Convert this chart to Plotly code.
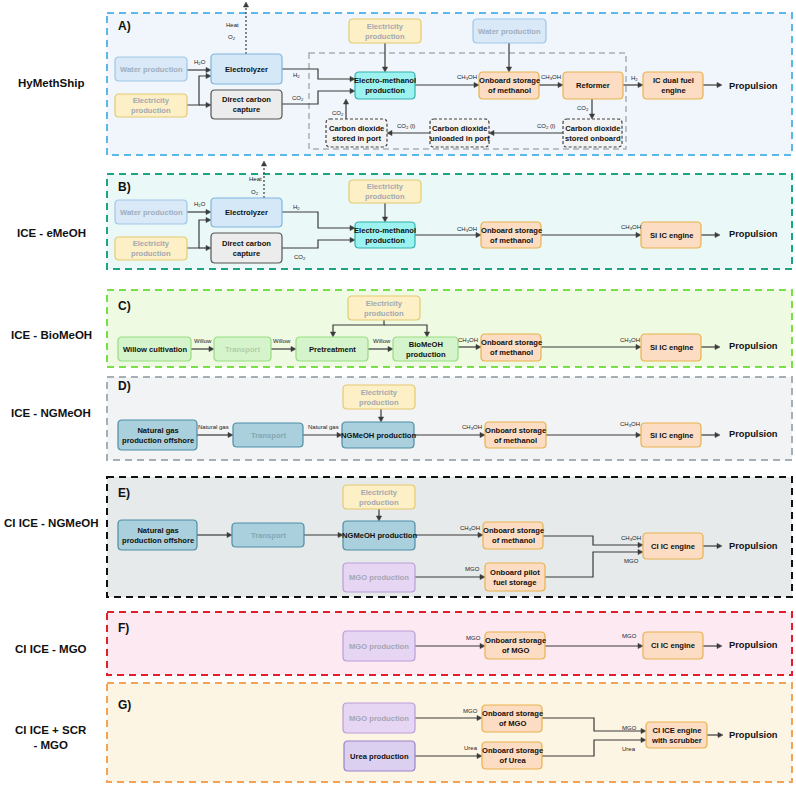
import plotly.graph_objects as go

W, H = 796, 785
FONT = "Liberation Sans, Arial, sans-serif"

# ---------------- data ----------------
scenario_names = ["HyMethShip", "ICE - eMeOH", "ICE - BioMeOH", "ICE - NGMeOH",
                  "CI ICE - NGMeOH", "CI ICE - MGO", "CI ICE + SCR<br>- MGO"]
panel_letters = ["A)", "B)", "C)", "D)", "E)", "F)", "G)"]

# ---------------- layout (positions in pixels) ----------------
panel_x = (107, 792)
panel_y = [(13, 155), (174, 269), (290, 367), (377, 460), (477, 597), (612, 675), (683, 782)]
panel_fill = ["#f0f6fb", "#eaf9f7", "#effae3", "#f2f3f4", "#e6eaeb", "#fde9f2", "#fdf5e3"]
panel_line = ["#5bb8ea", "#1ba584", "#78df45", "#a5afb6", "#111111", "#e11f2a", "#f4a253"]
name_y = [83, 233, 335, 413, 523, 649, 737]
letter_y = [26, 187, 306, 386, 493, 628, 705]

styles = {
    "water":  dict(fill="#dae9f7", line="#9fc6e7", text="#9eaebe", dash=None),
    "elec":   dict(fill="#fdf0c6", line="#e5ca70", text="#a2a9b2", dash=None),
    "elz":    dict(fill="#d4e8f8", line="#80b4de", text="#111111", dash=None),
    "dcc":    dict(fill="#ececec", line="#555555", text="#111111", dash=None),
    "em":     dict(fill="#9cf2ef", line="#30b2b2", text="#111111", dash=None),
    "co2":    dict(fill="#f3f3f3", line="#444444", text="#111111", dash="3px,2px"),
    "orange": dict(fill="#fddcc4", line="#e9b24c", text="#111111", dash=None),
    "green":  dict(fill="#d6f4cb", line="#96dd82", text="#111111", dash=None),
    "greenf": dict(fill="#d6f4cb", line="#96dd82", text="#b2cfa8", dash=None),
    "teal":   dict(fill="#a9d0dc", line="#4d8ea5", text="#111111", dash=None),
    "tealf":  dict(fill="#a9d0dc", line="#4d8ea5", text="#86a7b3", dash=None),
    "mgo":    dict(fill="#e6d6f3", line="#bb9dd8", text="#a3a6b4", dash=None),
    "urea":   dict(fill="#dcd0f1", line="#9b82c9", text="#111111", dash=None),
}

EL = "Electricity<br>production"
WP = "Water production"
OSM = "Onboard storage<br>of methanol"
nodes = [
    # panel A
    (WP, 115, 57, 187, 81, "water"),
    (EL, 115, 94, 187, 117, "elec"),
    ("Electrolyzer", 211, 54, 282, 84, "elz"),
    ("Direct carbon<br>capture", 211, 90, 282, 119, "dcc"),
    (EL, 349, 19, 421, 43, "elec"),
    ("Electro-methanol<br>production", 355, 72, 415, 99, "em"),
    ("Carbon dioxide<br>stored in port", 326, 119, 387, 147, "co2"),
    ("Carbon dioxide<br>unloaded in port", 430, 119, 489, 147, "co2"),
    ("Carbon dioxide<br>stored onboard", 563, 119, 622, 147, "co2"),
    (WP, 473, 19, 546, 43, "water"),
    (OSM, 479, 72, 539, 99, "orange"),
    ("Reformer", 563, 72, 623, 99, "orange"),
    ("IC dual fuel<br>engine", 643, 72, 703, 99, "orange"),
    # panel B
    (WP, 115, 200, 187, 224, "water"),
    (EL, 115, 237, 187, 260, "elec"),
    ("Electrolyzer", 211, 198, 282, 227, "elz"),
    ("Direct carbon<br>capture", 211, 233, 282, 263, "dcc"),
    (EL, 349, 180, 421, 203, "elec"),
    ("Electro-methanol<br>production", 355, 222, 415, 248, "em"),
    (OSM, 481, 222, 541, 248, "orange"),
    ("SI IC engine", 641, 222, 701, 248, "orange"),
    # panel C
    ("Willow cultivation", 118, 337, 191, 361, "green"),
    ("Transport", 214, 337, 271, 361, "greenf"),
    ("Pretreatment", 296, 337, 368, 361, "green"),
    ("BioMeOH<br>production", 393, 337, 458, 361, "green"),
    (EL, 348, 296, 420, 320, "elec"),
    (OSM, 481, 334, 541, 361, "orange"),
    ("SI IC engine", 641, 334, 701, 361, "orange"),
    # panel D
    ("Natural gas<br>production offshore", 118, 420, 197, 450, "teal"),
    ("Transport", 233, 423, 303, 447, "tealf"),
    ("NGMeOH production", 342, 422, 414, 448, "teal"),
    (EL, 343, 385, 415, 409, "elec"),
    (OSM, 485, 422, 546, 448, "orange"),
    ("SI IC engine", 641, 423, 701, 447, "orange"),
    # panel E
    ("Natural gas<br>production offshore", 118, 520, 197, 550, "teal"),
    ("Transport", 232, 523, 304, 547, "tealf"),
    ("NGMeOH production", 343, 521, 415, 550, "teal"),
    (EL, 343, 485, 415, 509, "elec"),
    ("MGO production", 343, 563, 415, 592, "mgo"),
    (OSM, 483, 522, 543, 549, "orange"),
    ("Onboard pilot<br>fuel storage", 485, 563, 545, 591, "orange"),
    ("CI IC engine", 643, 533, 703, 559, "orange"),
    # panel F
    ("MGO production", 343, 631, 415, 661, "mgo"),
    ("Onboard storage<br>of MGO", 485, 632, 545, 659, "orange"),
    ("CI IC engine", 643, 632, 703, 659, "orange"),
    # panel G
    ("MGO production", 343, 703, 415, 733, "mgo"),
    ("Urea production", 344, 741, 415, 771, "urea"),
    ("Onboard storage<br>of MGO", 482, 705, 542, 732, "orange"),
    ("Onboard storage<br>of Urea", 482, 742, 542, 769, "orange"),
    ("CI ICE engine<br>with scrubber", 646, 722, 707, 748, "orange"),
]

# arrows: polylines, arrow head at last point
edges = [
    # A
    [(187, 70), (211, 70)],
    [(187, 105), (199, 105), (199, 76), (211, 76)],
    [(199, 105), (211, 105)],
    [(282, 69), (318, 69), (318, 79), (355, 79)],
    [(282, 104), (318, 104), (318, 91), (355, 91)],
    [(385, 43), (385, 72)],
    [(346, 119), (346, 99)],
    [(415, 85), (479, 85)],
    [(509, 43), (509, 72)],
    [(539, 85), (563, 85)],
    [(623, 85), (643, 85)],
    [(703, 85), (722, 85)],
    [(592, 99), (592, 119)],
    [(563, 133), (489, 133)],
    [(430, 133), (387, 133)],
    # B
    [(187, 212), (211, 212)],
    [(187, 248), (199, 248), (199, 220), (211, 220)],
    [(199, 248), (211, 248)],
    [(282, 212), (318, 212), (318, 228), (355, 228)],
    [(282, 248), (318, 248), (318, 240), (355, 240)],
    [(385, 203), (385, 222)],
    [(415, 235), (481, 235)],
    [(541, 235), (641, 235)],
    [(701, 235), (720, 235)],
    # C
    [(191, 349), (214, 349)],
    [(271, 349), (296, 349)],
    [(368, 349), (393, 349)],
    [(384, 320), (384, 325), (333, 325), (333, 337)],
    [(384, 325), (427, 325), (427, 337)],
    [(458, 347), (481, 347)],
    [(541, 347), (641, 347)],
    [(701, 347), (720, 347)],
    # D
    [(197, 435), (233, 435)],
    [(303, 435), (342, 435)],
    [(381, 409), (381, 422)],
    [(414, 435), (485, 435)],
    [(546, 435), (641, 435)],
    [(701, 435), (720, 435)],
    # E
    [(197, 535), (232, 535)],
    [(304, 535), (343, 535)],
    [(379, 509), (379, 521)],
    [(415, 535), (483, 535)],
    [(415, 577), (485, 577)],
    [(543, 536), (593, 536), (593, 545), (643, 545)],
    [(545, 577), (593, 577), (593, 552), (643, 552)],
    [(703, 546), (722, 546)],
    # F
    [(415, 646), (485, 646)],
    [(545, 646), (643, 646)],
    [(703, 646), (722, 646)],
    # G
    [(415, 718), (482, 718)],
    [(415, 756), (482, 756)],
    [(542, 718), (594, 718), (594, 731), (646, 731)],
    [(542, 756), (594, 756), (594, 740), (646, 740)],
    [(707, 735), (723, 735)],
]

CH3OH = "CH<sub>3</sub>OH"
CO2 = "CO<sub>2</sub>"
edge_labels = [
    ("H<sub>2</sub>O", 200, 62), ("H<sub>2</sub>", 296, 75), (CO2, 298, 98),
    (CO2, 338, 113), (CH3OH, 467, 77), (CH3OH, 551, 77), ("H<sub>2</sub>", 634, 78),
    (CO2, 583, 108), ("CO<sub>2</sub> (l)", 546, 126), ("CO<sub>2</sub> (l)", 406, 126),
    ("Heat", 232, 25), ("O<sub>2</sub>", 232, 37),
    ("H<sub>2</sub>O", 200, 204), ("H<sub>2</sub>", 296, 207), (CO2, 300, 257),
    (CH3OH, 467, 229), (CH3OH, 631, 227), ("Heat", 255, 179), ("O<sub>2</sub>", 255, 192),
    ("Willow", 203, 341), ("Willow", 282, 341), ("Willow", 382, 341),
    (CH3OH, 468, 340), (CH3OH, 630, 340),
    ("Natural gas", 213, 427), ("Natural gas", 323, 427), (CH3OH, 472, 427), (CH3OH, 630, 424),
    (CH3OH, 470, 528), ("MGO", 472, 569), (CH3OH, 631, 538), ("MGO", 631, 561),
    ("MGO", 473, 638), ("MGO", 629, 636),
    ("MGO", 470, 711), ("Urea", 471, 748), ("MGO", 629, 728), ("Urea", 629, 749),
]
propulsion_y = [86, 234, 346, 434, 546, 645, 735]

# ---------------- build ----------------
shapes = []
annotations = []


def rrect(x0, y0, x1, y1, r=4):
    return (f"M {x0+r},{y0} L {x1-r},{y0} Q {x1},{y0} {x1},{y0+r} L {x1},{y1-r} "
            f"Q {x1},{y1} {x1-r},{y1} L {x0+r},{y1} Q {x0},{y1} {x0},{y1-r} "
            f"L {x0},{y0+r} Q {x0},{y0} {x0+r},{y0} Z")


def text(t, x, y, size, color="#111111", bold=True, xanchor="center"):
    annotations.append(dict(
        x=x, y=y, xref="x", yref="y", text=(f"<b>{t}</b>" if bold else t),
        showarrow=False, xanchor=xanchor, yanchor="middle",
        font=dict(family=FONT, size=size, color=color)))


ARROW = "#3a3a3a"


def arrow(pts, color=ARROW, width=1.2, dash=None, hl=5.0, hw=2.6):
    (xa, ya), (xb, yb) = pts[-2], pts[-1]
    dx, dy = xb - xa, yb - ya
    L = (dx * dx + dy * dy) ** 0.5
    ux, uy = dx / L, dy / L
    bx, by = xb - ux * hl, yb - uy * hl
    line_pts = pts[:-1] + [(bx, by)]
    d = "M " + " L ".join(f"{x},{y}" for x, y in line_pts)
    shapes.append(dict(type="path", path=d, xref="x", yref="y",
                       line=dict(color=color, width=width, dash=dash)))
    px, py = -uy, ux
    tri = (f"M {xb},{yb} L {bx+px*hw},{by+py*hw} L {bx-px*hw},{by-py*hw} Z")
    shapes.append(dict(type="path", path=tri, xref="x", yref="y",
                       fillcolor=color, line=dict(color=color, width=0.5)))


# panels
for i in range(len(panel_y)):
    y0, y1 = panel_y[i]
    shapes.append(dict(type="rect", xref="x", yref="y", x0=panel_x[0], x1=panel_x[1],
                       y0=y0, y1=y1, fillcolor=panel_fill[i], layer="below",
                       line=dict(color=panel_line[i], width=2, dash="7px,5px")))
    text(panel_letters[i], 116, letter_y[i], 12, xanchor="left")
    text(scenario_names[i], 51, name_y[i], 11.5)
    text("Propulsion", 727, propulsion_y[i], 9.3, xanchor="left")

# inner dashed box in A
shapes.append(dict(type="rect", xref="x", yref="y", x0=309, x1=626, y0=53, y1=149,
                   line=dict(color="#a9afb4", width=1.5, dash="6px,4px")))

# edges
for e in edges:
    arrow(list(e))

# dotted heat/O2 arrows
arrow([(246, 54), (246, 2)], dash="2px,2px", width=1.2)
arrow([(264, 198), (264, 161)], dash="2px,2px", width=1.2)

# nodes
for label, x0, y0, x1, y1, st in nodes:
    s = styles[st]
    shapes.append(dict(type="path", path=rrect(x0, y0, x1, y1), xref="x", yref="y",
                       fillcolor=s["fill"],
                       line=dict(color=s["line"], width=1.2, dash=s["dash"])))
    text(label, (x0 + x1) / 2, (y0 + y1) / 2, 7.6, color=s["text"])

for t, x, y in edge_labels:
    text(t, x, y, 6, color="#222222", bold=False)

fig = go.Figure()
fig.update_layout(
    width=W, height=H, margin=dict(l=0, r=0, t=0, b=0),
    paper_bgcolor="white", plot_bgcolor="white",
    xaxis=dict(range=[0, W], visible=False, fixedrange=True),
    yaxis=dict(range=[H, 0], visible=False, fixedrange=True),
    shapes=shapes, annotations=annotations, showlegend=False,
)
fig.write_html("out.html", config={"displayModeBar": False},
               post_script="document.body.style.margin='0';document.body.style.overflow='hidden';")
